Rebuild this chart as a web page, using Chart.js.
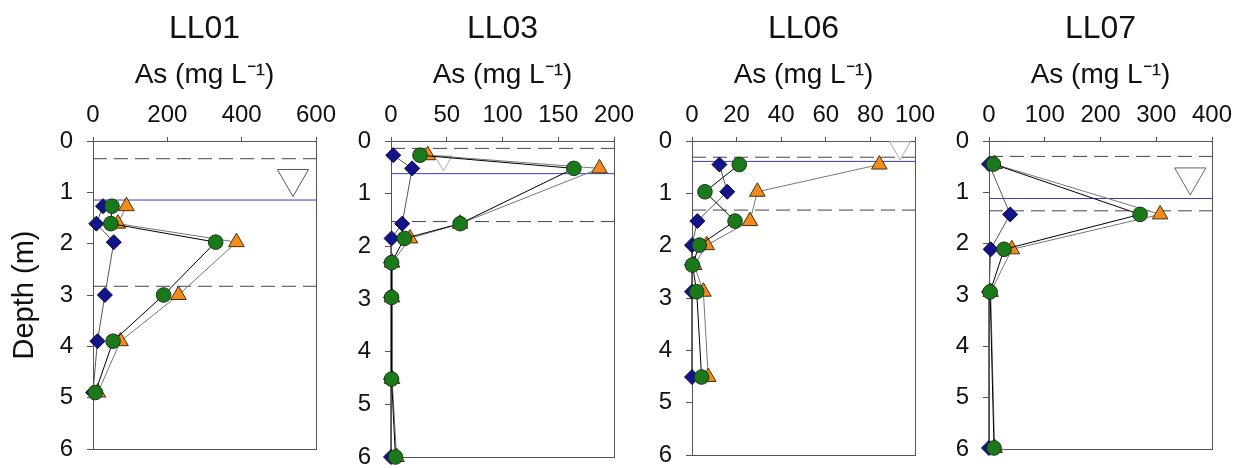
<!DOCTYPE html>
<html>
<head>
<meta charset="utf-8">
<script src="https://cdn.jsdelivr.net/npm/chart.js@4.4.0/dist/chart.umd.min.js"></script>
<style>
  html, body { margin: 0; padding: 0; background: #fff; }
  #wrap { position: relative; width: 1244px; height: 468px; overflow: hidden; background: #fff; }
  canvas { position: absolute; top: 0; }
</style>
</head>
<body>
<div id="wrap">
  <canvas id="c0" width="409" height="468" style="left:0px"></canvas>
  <canvas id="c1" width="363" height="468" style="left:321px"></canvas>
  <canvas id="c2" width="363" height="468" style="left:622px"></canvas>
  <canvas id="c3" width="363" height="468" style="left:919px"></canvas>
</div>
<script>
// panel names and axis ticks
const panelNames = ['LL01', 'LL03', 'LL06', 'LL07'];
const xMaxes = [600, 200, 100, 400];
const xSteps = [200, 50, 20, 100];
const depthMax = 6;

// LL01
const ll01Depth  = [1.27, 1.61, 1.97, 3.0, 3.9, 4.9];
const ll01Orange = [90, 67, 386, 230, 74, 13];
const ll01Green  = [51, 48, 330, 190, 54, 6];
const ll01Blue   = [27, 9, 56, 32, 12, 0];
const ll01Dashed = [0.345, 2.83];
const ll01BlueLine = 1.15;
const ll01WaterTable = [538, 0.73];

// LL03
const ll03Depth  = [0.27, 0.52, 1.57, 1.85, 2.31, 2.97, 4.52, 6.0];
const ll03Orange = [33, 187, 62, 17, 1, 1, 1, 5];
const ll03Green  = [26, 164, 62, 12, 0.5, 0.5, 0.5, 4];
const ll03Blue   = [2, 19, 10, 0.5, 0, 0, 0, 0];
const ll03Dashed = [0.14, 1.53];
const ll03BlueLine = 0.62;
const ll03WaterTable = [47, 0.38];

// LL06
const ll06Depth  = [0.45, 0.97, 1.53, 1.99, 2.37, 2.88, 4.51];
const ll06Orange = [84, 29.3, 26, 6.6, 1, 5.1, 7.3];
const ll06Green  = [21.2, 5.8, 19.3, 3.3, 0.2, 2.1, 4.3];
const ll06Blue   = [12.3, 15.8, 2.4, 0, 0, 0, 0];
const ll06Dashed = [0.31, 1.32];
const ll06BlueLine = 0.39;
const ll06WaterTable = [93.3, 0.13];

// LL07
const ll07Depth  = [0.45, 1.43, 2.11, 2.94, 5.98];
const ll07Orange = [10, 307, 41, 3, 10];
const ll07Green  = [8, 271, 27, 2, 9];
const ll07Blue   = [0, 38, 3, 0, 0];
const ll07Dashed = [0.30, 1.36];
const ll07BlueLine = 1.12;
const ll07WaterTable = [361, 0.70];

const FONT = '"Liberation Sans", Arial, sans-serif';
const TEXT = '#111';
const FRAME = '#555';

// layout per panel (pixels); the right axis mirrors the left one so titles centre on the plot
const yAxisWidths = [93, 70, 70, 70];
const markerRadii = [18, 10, 12, 18];
const markerColors = ['#555', '#aaa', '#aaa', '#666'];

function makePanel(i, depth, orange, green, blue, dashed, blueLine, waterTable) {
  const pts = xs => xs.map((x, k) => ({ x: x, y: depth[k] }));
  const hLine = y => [{ x: 0, y: y }, { x: xMaxes[i], y: y }];

  const datasets = [
    {
      label: 'green', data: pts(green), showLine: true, clip: false,
      borderColor: '#000', borderWidth: 1,
      pointStyle: 'circle', pointRadius: 7.3,
      pointBackgroundColor: '#1a7a1a', pointBorderColor: '#1b331b', pointBorderWidth: 1
    },
    {
      label: 'blue', data: pts(blue), showLine: true, clip: false,
      borderColor: '#555', borderWidth: 1,
      pointStyle: 'rectRot', pointRadius: 7.5,
      pointBackgroundColor: '#14148a', pointBorderColor: '#0a0a40', pointBorderWidth: 1
    },
    {
      label: 'orange', data: pts(orange), showLine: true, clip: false,
      borderColor: '#777', borderWidth: 1,
      pointStyle: 'triangle', pointRadius: 9,
      pointBackgroundColor: '#f28a1c', pointBorderColor: '#4a3010', pointBorderWidth: 1
    },
    {
      label: 'water table', data: [{ x: waterTable[0], y: waterTable[1] }], showLine: false, clip: false,
      pointStyle: 'triangle', pointRotation: 180, pointRadius: markerRadii[i],
      pointBackgroundColor: '#fff', pointBorderColor: markerColors[i], pointBorderWidth: 1
    }
  ];
  dashed.forEach(y => datasets.push({
    label: 'dashed', data: hLine(y), showLine: true,
    borderColor: '#444', borderWidth: 1, borderDash: [14, 7], pointRadius: 0
  }));
  datasets.push({
    label: 'blue line', data: hLine(blueLine), showLine: true,
    borderColor: '#3a3ac8', borderWidth: 1, pointRadius: 0
  });

  return new Chart(document.getElementById('c' + i), {
    type: 'scatter',
    data: { datasets: datasets },
    options: {
      responsive: false,
      animation: false,
      events: [],
      layout: { padding: { top: 0, left: 0, right: 0, bottom: 9 } },
      plugins: {
        legend: { display: false },
        tooltip: { enabled: false },
        title: {
          display: true, text: panelNames[i], color: TEXT,
          font: { family: FONT, size: 32, weight: 'normal', lineHeight: 1.2 },
          padding: { top: 9.8, bottom: 6.8 }
        }
      },
      scales: {
        x: {
          type: 'linear', position: 'top', min: 0, max: xMaxes[i],
          ticks: { stepSize: xSteps[i], padding: 7, color: TEXT, maxRotation: 0,
                   font: { family: FONT, size: 24 } },
          grid: { drawOnChartArea: false, tickLength: 4, color: FRAME },
          border: { color: FRAME },
          title: { display: true, text: 'As (mg L⁻¹)', color: TEXT,
                   font: { family: FONT, size: 28 }, padding: { top: 3, bottom: 0 } },
          afterFit: s => { s.height = 86; s.paddingLeft = 0; s.paddingRight = 0; }
        },
        y: {
          type: 'linear', position: 'left', reverse: true, min: 0, max: depthMax,
          ticks: { stepSize: 1, padding: 14, color: TEXT, font: { family: FONT, size: 24 } },
          grid: { drawOnChartArea: false, tickLength: 6, color: FRAME },
          border: { color: FRAME },
          title: { display: i === 0, text: 'Depth (m)', color: TEXT,
                   font: { family: FONT, size: 29 }, padding: { top: 8, bottom: 0 } },
          afterFit: s => { s.width = yAxisWidths[i]; s.paddingTop = 0; s.paddingBottom = 0; }
        },
        x2: {
          type: 'linear', position: 'bottom', min: 0, max: xMaxes[i],
          ticks: { display: false },
          grid: { drawOnChartArea: false, drawTicks: false },
          border: { color: FRAME },
          afterFit: s => { s.height = 0; s.paddingLeft = 0; s.paddingRight = 0; }
        },
        y2: {
          type: 'linear', position: 'right', min: 0, max: depthMax,
          ticks: { display: false },
          grid: { drawOnChartArea: false, drawTicks: false },
          border: { color: FRAME },
          afterFit: s => { s.width = yAxisWidths[i]; s.paddingTop = 0; s.paddingBottom = 0; }
        }
      }
    }
  });
}

makePanel(0, ll01Depth, ll01Orange, ll01Green, ll01Blue, ll01Dashed, ll01BlueLine, ll01WaterTable);
makePanel(1, ll03Depth, ll03Orange, ll03Green, ll03Blue, ll03Dashed, ll03BlueLine, ll03WaterTable);
makePanel(2, ll06Depth, ll06Orange, ll06Green, ll06Blue, ll06Dashed, ll06BlueLine, ll06WaterTable);
makePanel(3, ll07Depth, ll07Orange, ll07Green, ll07Blue, ll07Dashed, ll07BlueLine, ll07WaterTable);
</script>
</body>
</html>
